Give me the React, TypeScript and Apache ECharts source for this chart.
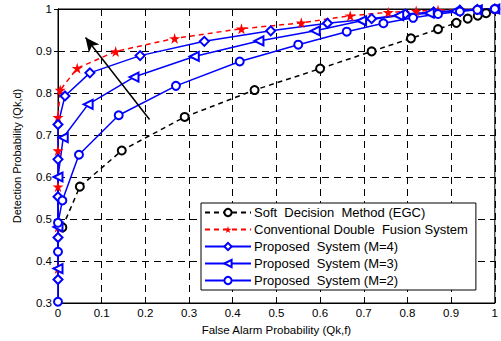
import React, { useEffect, useRef } from "react";
import * as echarts from "echarts";

const xTicks = [0, 0.1, 0.2, 0.3, 0.4, 0.5, 0.6, 0.7, 0.8, 0.9, 1];
const yTicks = [0.3, 0.4, 0.5, 0.6, 0.7, 0.8, 0.9, 1];

const seriesNames = [
  "Soft  Decision  Method (EGC)",
  "Conventional Double  Fusion System",
  "Proposed  System (M=4)",
  "Proposed  System (M=3)",
  "Proposed  System (M=2)",
];

const softEGC = [
  [0.01, 0.48], [0.05, 0.577], [0.146, 0.663], [0.29, 0.743], [0.45, 0.807],
  [0.6, 0.858], [0.718, 0.899], [0.808, 0.93], [0.87, 0.952], [0.912, 0.967],
  [0.938, 0.977], [0.961, 0.984], [0.98, 0.99], [1, 1],
];
const conventional = [
  [0, 0.382], [0, 0.481], [0, 0.577], [0, 0.663], [0, 0.742], [0.005, 0.807],
  [0.044, 0.859], [0.132, 0.899], [0.267, 0.93], [0.42, 0.953], [0.557, 0.967],
  [0.669, 0.984], [0.756, 0.992], [0.82, 0.995], [0.87, 0.997], [0.92, 0.998],
  [0.96, 0.999], [1, 1],
];
const proposedM4 = [
  [0, 0.356], [0, 0.456], [0, 0.553], [0, 0.642], [0, 0.725], [0.016, 0.793],
  [0.073, 0.848], [0.188, 0.889], [0.335, 0.923], [0.487, 0.948], [0.617, 0.966],
  [0.718, 0.977], [0.795, 0.988], [0.86, 0.993], [0.92, 0.997], [0.96, 0.999], [1, 1],
];
const proposedM3 = [
  [0, 0.382], [0, 0.481], [0, 0.6], [0.012, 0.694], [0.069, 0.773], [0.174, 0.838],
  [0.312, 0.887], [0.46, 0.924], [0.589, 0.948], [0.695, 0.972], [0.78, 0.984],
  [0.85, 0.99], [0.91, 0.995], [0.96, 0.998], [1, 1],
];
const proposedM2 = [
  [0, 0.303], [0, 0.422], [0, 0.491], [0.01, 0.544], [0.048, 0.653], [0.139, 0.747],
  [0.27, 0.817], [0.416, 0.875], [0.55, 0.915], [0.661, 0.946], [0.745, 0.966],
  [0.813, 0.979], [0.87, 0.988], [0.92, 0.994], [0.96, 0.998], [1, 1],
];
const arrowFrom = [0.2096, 0.737];
const arrowTo = [0.063, 0.932];

const FONT = "Liberation Sans";
const STAR =
  "path://M50,0 L61,35 L98,35 L68,57 L79,91 L50,70 L21,91 L32,57 L2,35 L39,35 Z";

export default function App() {
  const ref = useRef<HTMLDivElement>(null);
  useEffect(() => {
    const chart = echarts.init(ref.current!, null, { renderer: "svg" });
    const axisCommon = {
      type: "value",
      axisLine: { show: true, lineStyle: { color: "#000", width: 1 } },
      axisTick: { show: true, inside: true, length: 4, lineStyle: { color: "#000" } },
    };
    chart.setOption({
      animation: false,
      backgroundColor: "#fff",
      textStyle: { fontFamily: FONT },
      grid: {
        left: 58, right: 4, top: 9, bottom: 33,
        show: true, borderColor: "#000", borderWidth: 1, backgroundColor: "transparent",
      },
      legend: {
        orient: "vertical",
        left: 201,
        top: 203,
        backgroundColor: "#fff",
        borderColor: "#000",
        borderWidth: 1,
        borderRadius: 0,
        padding: [3, 8, 3, 3],
        itemGap: 4,
        itemWidth: 46,
        itemHeight: 9,
        textStyle: { fontFamily: FONT, fontSize: 13, color: "#000", padding: [0, 0, 0, -2] },
        data: seriesNames,
      },
      xAxis: [
        {
          ...axisCommon,
          min: 0, max: 1, interval: 0.1,
          name: "False Alarm Probability (Qk,f)",
          nameLocation: "middle",
          nameGap: 21,
          nameTextStyle: { fontFamily: FONT, fontSize: 11.5, color: "#000" },
          axisLabel: {
            fontFamily: FONT, fontSize: 11.5, color: "#000", margin: 4,
            formatter: (v: number) => (xTicks.some((t) => Math.abs(t - v) < 1e-6) ? String(+v.toFixed(1)) : ""),
          },
          splitLine: { show: true, lineStyle: { color: "#000", type: [7, 5], width: 1 } },
        },
        {
          ...axisCommon,
          position: "top",
          min: 0, max: 1, interval: 0.1,
          axisLabel: { show: false },
          splitLine: { show: false },
        },
      ],
      yAxis: [
        {
          ...axisCommon,
          min: 0.3, max: 1, interval: 0.1,
          name: "Detection Probability (Qk,d)",
          nameLocation: "middle",
          nameGap: 36,
          nameRotate: 90,
          nameTextStyle: { fontFamily: FONT, fontSize: 11, color: "#000" },
          axisLabel: {
            fontFamily: FONT, fontSize: 11.5, color: "#000", margin: 6,
            formatter: (v: number) => (yTicks.some((t) => Math.abs(t - v) < 1e-6) ? String(+v.toFixed(1)) : ""),
          },
          splitLine: { show: true, lineStyle: { color: "#000", type: [7, 5], width: 1 } },
        },
        {
          ...axisCommon,
          position: "right",
          min: 0.3, max: 1, interval: 0.1,
          axisLabel: { show: false },
          splitLine: { show: false },
        },
      ],
      series: [
        {
          name: seriesNames[0],
          type: "line",
          data: softEGC,
          clip: false,
          symbol: "emptyCircle",
          symbolSize: 8,
          color: "#000",
          lineStyle: { color: "#000", width: 1.5, type: [5, 4] },
          itemStyle: { color: "#000", borderWidth: 1.5 },
          markLine: {
            silent: true,
            symbol: ["none", "arrow"],
            symbolSize: [10, 14],
            label: { show: false },
            lineStyle: { color: "#000", width: 1.5, type: "solid" },
            data: [[{ coord: arrowFrom }, { coord: arrowTo }]],
          },
        },
        {
          name: seriesNames[1],
          type: "line",
          data: conventional,
          clip: false,
          symbol: STAR,
          symbolSize: 11,
          color: "#ff0000",
          lineStyle: { color: "#ff0000", width: 1.5, type: [5, 4] },
          itemStyle: { color: "#ff0000" },
        },
        {
          name: seriesNames[2],
          type: "line",
          data: proposedM4,
          clip: false,
          symbol: "emptyDiamond",
          symbolSize: 9,
          color: "#0000ff",
          lineStyle: { color: "#0000ff", width: 1.5 },
          itemStyle: { color: "#0000ff", borderWidth: 1.5 },
        },
        {
          name: seriesNames[3],
          type: "line",
          data: proposedM3,
          clip: false,
          symbol: "emptyTriangle",
          symbolRotate: 90,
          symbolSize: 9,
          color: "#0000ff",
          lineStyle: { color: "#0000ff", width: 1.5 },
          itemStyle: { color: "#0000ff", borderWidth: 1.5 },
        },
        {
          name: seriesNames[4],
          type: "line",
          data: proposedM2,
          clip: false,
          symbol: "emptyCircle",
          symbolSize: 8,
          color: "#0000ff",
          lineStyle: { color: "#0000ff", width: 1.5 },
          itemStyle: { color: "#0000ff", borderWidth: 1.5 },
        },
      ],
    });
    return () => chart.dispose();
  }, []);
  return (
    <div
      ref={ref}
      style={{ position: "fixed", left: 0, top: 0, width: 501, height: 341 }}
    />
  );
}
